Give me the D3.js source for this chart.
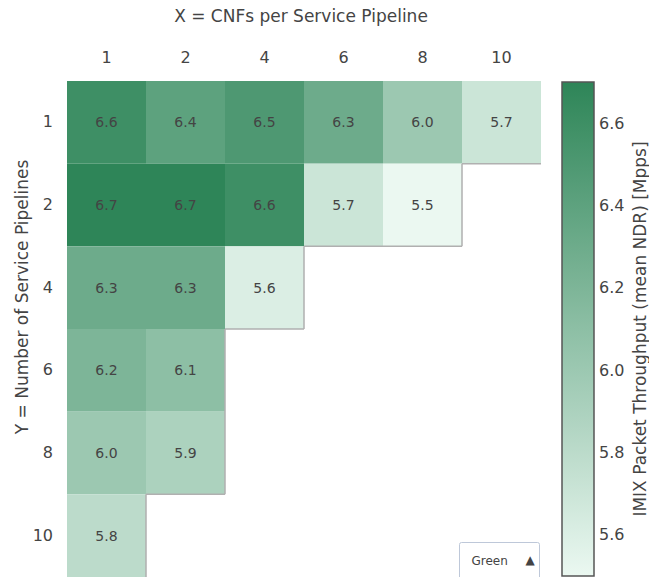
<!DOCTYPE html>
<html>
<head>
<meta charset="utf-8">
<script src="https://cdn.jsdelivr.net/npm/d3@7"></script>
<style>
  html, body { margin: 0; padding: 0; background: #fff; }
  svg { display: block; font-family: "DejaVu Sans", sans-serif; }
</style>
</head>
<body>
<svg id="chart" width="649" height="577"></svg>
<script>
// Axis categories
const cnfsPerPipeline = ["1", "2", "4", "6", "8", "10"];      // X
const servicePipelines = ["1", "2", "4", "6", "8", "10"];     // Y

// Mean NDR throughput [Mpps], one array per Y row (missing combinations omitted)
const row1 = [6.6, 6.4, 6.5, 6.3, 6.0, 5.7];
const row2 = [6.7, 6.7, 6.6, 5.7, 5.5];
const row4 = [6.3, 6.3, 5.6];
const row6 = [6.2, 6.1];
const row8 = [6.0, 5.9];
const row10 = [5.8];
const rows = [row1, row2, row4, row6, row8, row10];

const colorbarTicks = [5.6, 5.8, 6.0, 6.2, 6.4, 6.6];

const xTitle = "X = CNFs per Service Pipeline";
const yTitle = "Y = Number of Service Pipelines";
const cbTitle = "IMIX Packet Throughput (mean NDR) [Mpps]";

const svg = d3.select("#chart");
const margin = { left: 67, right: 541, top: 81, bottom: 577 };

const x = d3.scaleBand().domain(cnfsPerPipeline).range([margin.left, margin.right]).padding(0);
const y = d3.scaleBand().domain(servicePipelines).range([margin.top, margin.bottom]).padding(0);

const zMin = 5.5, zMax = 6.7;
const color = d3.scaleLinear()
  .domain([zMin, zMax])
  .range(["#ebf8f1", "#2e8558"])
  .interpolate(d3.interpolateRgb);

// Flatten into cells
const cells = [];
rows.forEach((vals, ri) => {
  vals.forEach((v, ci) => {
    cells.push({ x: cnfsPerPipeline[ci], y: servicePipelines[ri], v });
  });
});

const g = svg.append("g");
g.selectAll("rect.cell")
  .data(cells)
  .enter().append("rect")
  .attr("class", "cell")
  .attr("x", d => x(d.x))
  .attr("y", d => y(d.y))
  .attr("width", x.bandwidth())
  .attr("height", y.bandwidth())
  .attr("fill", d => color(d.v));

// Staircase edge where data ends
const filled = new Set(cells.map(d => d.x + "|" + d.y));
const edge = d3.path();
servicePipelines.forEach((yy, ri) => {
  cnfsPerPipeline.forEach((xx, ci) => {
    if (filled.has(xx + "|" + yy)) return;
    const x0 = x(xx), y0 = y(yy), w = x.bandwidth(), h = y.bandwidth();
    if (ri > 0 && filled.has(xx + "|" + servicePipelines[ri - 1])) {
      edge.moveTo(x0, y0); edge.lineTo(x0 + w, y0);
    }
    if (ci > 0 && filled.has(cnfsPerPipeline[ci - 1] + "|" + yy)) {
      edge.moveTo(x0, y0); edge.lineTo(x0, y0 + h);
    }
  });
});
g.append("path")
  .attr("d", edge.toString())
  .attr("fill", "none")
  .attr("stroke", "#b0b0b0")
  .attr("stroke-width", 1.5);

g.selectAll("text.val")
  .data(cells)
  .enter().append("text")
  .attr("class", "val")
  .attr("x", d => x(d.x) + x.bandwidth() / 2)
  .attr("y", d => y(d.y) + y.bandwidth() / 2)
  .attr("dy", "0.35em")
  .attr("text-anchor", "middle")
  .attr("font-size", 14)
  .attr("fill", "#444")
  .text(d => d.v.toFixed(1));

// Axes
const xAxis = svg.append("g")
  .attr("transform", `translate(0,${margin.top})`)
  .call(d3.axisTop(x).tickSize(0).tickPadding(18));
xAxis.select(".domain").remove();
xAxis.selectAll("text").attr("font-size", 16).attr("fill", "#444").attr("font-family", "DejaVu Sans");

const yAxis = svg.append("g")
  .attr("transform", `translate(${margin.left},0)`)
  .call(d3.axisLeft(y).tickSize(0).tickPadding(14));
yAxis.select(".domain").remove();
yAxis.selectAll("text").attr("font-size", 16).attr("fill", "#444").attr("font-family", "DejaVu Sans");

svg.append("text")
  .attr("x", 301)
  .attr("y", 22)
  .attr("text-anchor", "middle")
  .attr("font-size", 17)
  .attr("fill", "#444")
  .text(xTitle);

svg.append("text")
  .attr("transform", `translate(28,297) rotate(-90)`)
  .attr("text-anchor", "middle")
  .attr("font-size", 17)
  .attr("fill", "#444")
  .text(yTitle);

// Colorbar
const cb = { x0: 562, x1: 594, y0: 82, y1: 576 };
const cbScale = d3.scaleLinear().domain([zMin, zMax]).range([cb.y1, cb.y0]);
const defs = svg.append("defs");
const grad = defs.append("linearGradient")
  .attr("id", "cbGrad").attr("x1", 0).attr("y1", 1).attr("x2", 0).attr("y2", 0);
d3.range(0, 1.0001, 0.1).forEach(t => {
  grad.append("stop").attr("offset", t).attr("stop-color", color(zMin + t * (zMax - zMin)));
});
svg.append("rect")
  .attr("x", cb.x0).attr("y", cb.y0)
  .attr("width", cb.x1 - cb.x0).attr("height", cb.y1 - cb.y0)
  .attr("fill", "url(#cbGrad)")
  .attr("stroke", "#555").attr("stroke-width", 1.5);

const cbAxis = svg.append("g")
  .attr("transform", `translate(${cb.x1},0)`)
  .call(d3.axisRight(cbScale).tickValues(colorbarTicks).tickFormat(d3.format(".1f")).tickSize(0).tickPadding(5));
cbAxis.select(".domain").remove();
cbAxis.selectAll("text").attr("font-size", 16).attr("fill", "#444").attr("font-family", "DejaVu Sans");

svg.append("text")
  .attr("transform", `translate(646,${(cb.y0 + cb.y1) / 2}) rotate(-90)`)
  .attr("text-anchor", "middle")
  .attr("font-size", 17)
  .attr("fill", "#444")
  .text(cbTitle);

// Colour-scale dropdown button
const btn = svg.append("g").attr("transform", "translate(459.5,542.5)");
btn.append("rect")
  .attr("width", 80).attr("height", 40).attr("rx", 2)
  .attr("fill", "#fff").attr("stroke", "#bec8d9").attr("stroke-width", 1);
btn.append("text")
  .attr("x", 12).attr("y", 22)
  .attr("font-size", 12).attr("fill", "#444")
  .text("Green");
btn.append("text")
  .attr("x", 66).attr("y", 21)
  .attr("font-size", 12).attr("fill", "#444")
  .text("▲");
</script>
</body>
</html>
